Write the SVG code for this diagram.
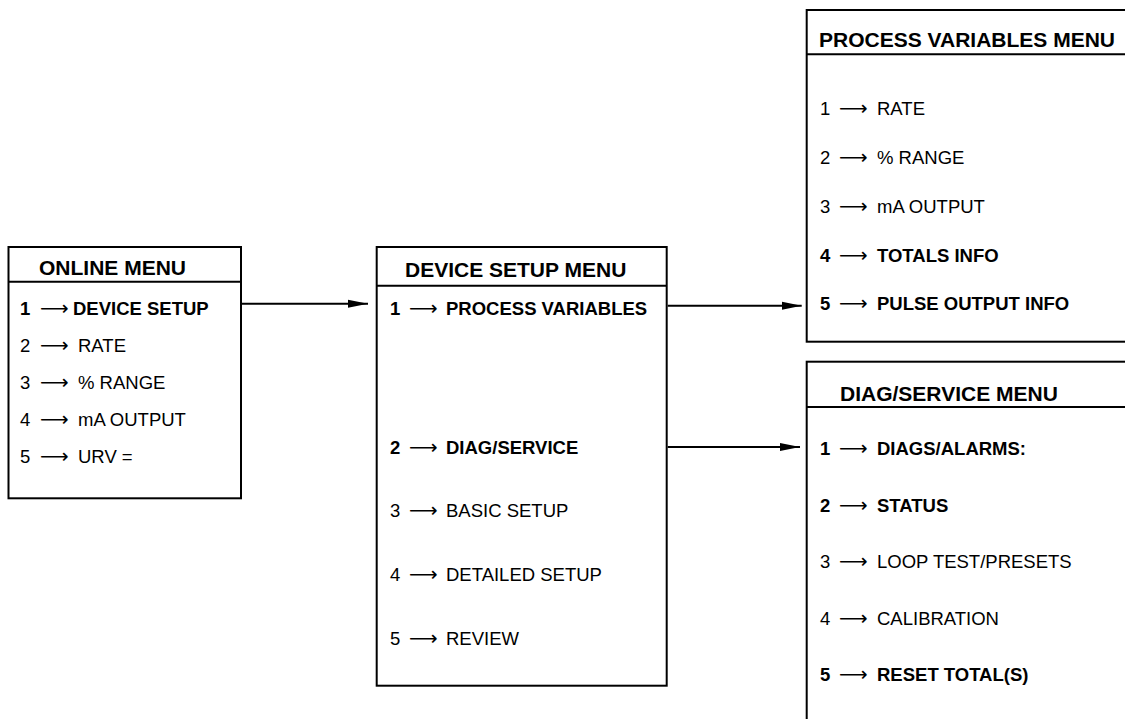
<svg xmlns="http://www.w3.org/2000/svg" width="1125" height="719" viewBox="0 0 1125 719">
<style>
.box{fill:none;stroke:#000;stroke-width:2}
.hl{stroke:#000;stroke-width:2}
.t{font-family:"Liberation Sans",Arial,sans-serif;font-size:18.5px;fill:#000}
.b{font-weight:bold}
.h{font-family:"Liberation Sans",Arial,sans-serif;font-size:21px;font-weight:bold;fill:#000}
.ar{font-family:"DejaVu Sans",sans-serif;font-weight:normal;font-size:20px}
.conn{stroke:#000;stroke-width:2;fill:none}
</style>
<defs>
<marker id="ah" markerUnits="userSpaceOnUse" markerWidth="22" markerHeight="10" refX="20" refY="5" orient="auto">
<path d="M0,1 Q10,3 20,5 Q10,7 0,9 Z" fill="#000"/>
</marker>
</defs>
<rect width="1125" height="719" fill="#fff"/>

<g id="online-menu">
<rect class="box" x="8.5" y="247" width="232.5" height="251.3"/>
<line class="hl" x1="8.5" y1="281.7" x2="241" y2="281.7"/>
<text class="h" x="39" y="275">ONLINE MENU</text>
<text class="t b" y="314.5"><tspan x="20">1</tspan><tspan class="ar" x="40">⟶</tspan><tspan x="73">DEVICE SETUP</tspan></text>
<text class="t" y="351.6"><tspan x="20">2</tspan><tspan class="ar" x="40">⟶</tspan><tspan x="78">RATE</tspan></text>
<text class="t" y="388.8"><tspan x="20">3</tspan><tspan class="ar" x="40">⟶</tspan><tspan x="78">% RANGE</tspan></text>
<text class="t" y="425.9"><tspan x="20">4</tspan><tspan class="ar" x="40">⟶</tspan><tspan x="78">mA OUTPUT</tspan></text>
<text class="t" y="463"><tspan x="20">5</tspan><tspan class="ar" x="40">⟶</tspan><tspan x="78">URV =</tspan></text>
</g>

<g id="device-setup-menu">
<rect class="box" x="376.7" y="247" width="290" height="438.7"/>
<line class="hl" x1="376.7" y1="285.7" x2="666.7" y2="285.7"/>
<text class="h" x="405" y="276.7">DEVICE SETUP MENU</text>
<text class="t b" y="314.5"><tspan x="390">1</tspan><tspan class="ar" x="409">⟶</tspan><tspan x="446">PROCESS VARIABLES</tspan></text>
<text class="t b" y="454"><tspan x="390">2</tspan><tspan class="ar" x="409">⟶</tspan><tspan x="446">DIAG/SERVICE</tspan></text>
<text class="t" y="517"><tspan x="390">3</tspan><tspan class="ar" x="409">⟶</tspan><tspan x="446">BASIC SETUP</tspan></text>
<text class="t" y="581"><tspan x="390">4</tspan><tspan class="ar" x="409">⟶</tspan><tspan x="446">DETAILED SETUP</tspan></text>
<text class="t" y="645"><tspan x="390">5</tspan><tspan class="ar" x="409">⟶</tspan><tspan x="446">REVIEW</tspan></text>
</g>

<g id="process-variables-menu">
<rect class="box" x="806.7" y="10" width="340" height="331.7"/>
<line class="hl" x1="806.7" y1="54.3" x2="1130" y2="54.3"/>
<text class="h" x="819" y="46.7">PROCESS VARIABLES MENU</text>
<text class="t" y="115"><tspan x="820">1</tspan><tspan class="ar" x="839">⟶</tspan><tspan x="877">RATE</tspan></text>
<text class="t" y="163.5"><tspan x="820">2</tspan><tspan class="ar" x="839">⟶</tspan><tspan x="877">% RANGE</tspan></text>
<text class="t" y="212.5"><tspan x="820">3</tspan><tspan class="ar" x="839">⟶</tspan><tspan x="877">mA OUTPUT</tspan></text>
<text class="t b" y="261.5"><tspan x="820">4</tspan><tspan class="ar" x="839">⟶</tspan><tspan x="877">TOTALS INFO</tspan></text>
<text class="t b" y="309.5"><tspan x="820">5</tspan><tspan class="ar" x="839">⟶</tspan><tspan x="877">PULSE OUTPUT INFO</tspan></text>
</g>

<g id="diag-service-menu">
<rect class="box" x="806.7" y="361.7" width="340" height="400"/>
<line class="hl" x1="806.7" y1="407" x2="1130" y2="407"/>
<text class="h" x="840" y="400.7">DIAG/SERVICE MENU</text>
<text class="t b" y="455"><tspan x="820">1</tspan><tspan class="ar" x="839">⟶</tspan><tspan x="877">DIAGS/ALARMS:</tspan></text>
<text class="t b" y="511.5"><tspan x="820">2</tspan><tspan class="ar" x="839">⟶</tspan><tspan x="877">STATUS</tspan></text>
<text class="t" y="568"><tspan x="820">3</tspan><tspan class="ar" x="839">⟶</tspan><tspan x="877">LOOP TEST/PRESETS</tspan></text>
<text class="t" y="624.5"><tspan x="820">4</tspan><tspan class="ar" x="839">⟶</tspan><tspan x="877">CALIBRATION</tspan></text>
<text class="t b" y="681"><tspan x="820">5</tspan><tspan class="ar" x="839">⟶</tspan><tspan x="877">RESET TOTAL(S)</tspan></text>
</g>

<g id="connectors">
<line class="conn" x1="242" y1="303.7" x2="368" y2="303.7" marker-end="url(#ah)"/>
<line class="conn" x1="667.7" y1="305.7" x2="801.7" y2="305.7" marker-end="url(#ah)"/>
<line class="conn" x1="667.7" y1="447" x2="800" y2="447" marker-end="url(#ah)"/>
</g>
</svg>
